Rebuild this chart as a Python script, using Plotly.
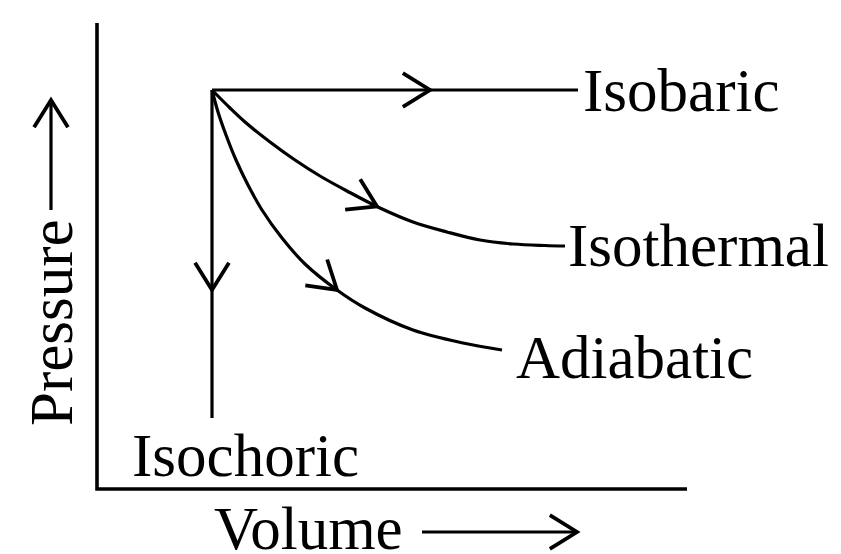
import math
import plotly.graph_objects as go

# ---- data (arbitrary schematic units: volume V, pressure P) ----
frame_V = [0.0, 0.0, 59.0]
frame_P = [46.6, 0.0, 0.0]

isobaric_V = [11.5, 48.1]
isobaric_P = [39.9, 39.9]

isochoric_V = [11.5, 11.5]
isochoric_P = [39.9, 7.1]

isothermal_V = [11.5, 13.3, 14.8, 17.3, 19.8, 22.3, 25.0, 28.3, 31.6, 35.0, 38.3, 41.6, 44.8, 46.8]
isothermal_P = [39.9, 38.1, 36.7, 34.7, 32.9, 31.3, 29.8, 28.1, 26.7, 25.7, 24.9, 24.5, 24.35, 24.3]

adiabatic_V = [11.5, 12.1, 12.9, 13.9, 15.1, 16.5, 18.5, 20.8, 24.0, 26.8, 31.6, 36.6, 40.5]
adiabatic_P = [39.9, 37.7, 35.4, 32.9, 30.4, 27.9, 25.1, 22.5, 19.9, 18.1, 15.9, 14.6, 13.9]

# arrow tips: (coordinate along which to locate, value)
arrow_tip = {"isobaric": ("V", 33.3), "isochoric": ("P", 19.9),
             "isothermal": ("V", 28.0), "adiabatic": ("V", 24.0)}

# axis-label arrows
pressure_arrow_V = [-4.6, -4.6]
pressure_arrow_P = [27.9, 38.9]
volume_arrow_V = [32.5, 48.0]
volume_arrow_P = [-4.3, -4.3]

labels = ["Isobaric", "Isothermal", "Adiabatic", "Isochoric"]
label_V = [48.4, 46.9, 41.7, 3.3]
label_P = [39.9, 24.4, 13.2, 3.4]

# ---- geometry: 10 px per unit, origin at pixel (97, 489) ----
W, H = 841, 554
S = 10.0
OX, OY = 97, 489
xr = [-OX / S, (W - OX) / S]
yr = [(OY - H) / S, OY / S]

FONT = "Liberation Serif"
FS = 61
LW = 3.2


def to_px(v, p):
    return OX + v * S, OY - p * S


def to_data(x, y):
    return (x - OX) / S, (OY - y) / S


def locate(V, P, key, val):
    arr = V if key == "V" else P
    for i in range(len(arr) - 1):
        a, b = arr[i], arr[i + 1]
        if min(a, b) <= val <= max(a, b) and a != b:
            t = (val - a) / (b - a)
            v = V[i] + t * (V[i + 1] - V[i])
            p = P[i] + t * (P[i + 1] - P[i])
            j0, j1 = max(i - 1, 0), min(i + 2, len(V) - 1)
            x0, y0 = to_px(V[j0], P[j0])
            x1, y1 = to_px(V[j1], P[j1])
            n = math.hypot(x1 - x0, y1 - y0)
            return to_px(v, p), ((x1 - x0) / n, (y1 - y0) / n)
    x0, y0 = to_px(V[-2], P[-2])
    x1, y1 = to_px(V[-1], P[-1])
    n = math.hypot(x1 - x0, y1 - y0)
    return (x1, y1), ((x1 - x0) / n, (y1 - y0) / n)


def chevron(tip, d, length=32, half_angle=32):
    a = math.radians(half_angle)
    xs, ys = [], []
    for sgn in (1, -1):
        c, s = math.cos(sgn * a), math.sin(sgn * a)
        bx, by = -d[0], -d[1]
        xs.append(tip[0] + length * (bx * c - by * s))
        ys.append(tip[1] + length * (bx * s + by * c))
    px = [xs[0], tip[0], xs[1]]
    py = [ys[0], tip[1], ys[1]]
    dv = [to_data(x, y) for x, y in zip(px, py)]
    return [q[0] for q in dv], [q[1] for q in dv]


fig = go.Figure()


def add_line(V, P, shape="linear", width=LW):
    fig.add_trace(go.Scatter(x=V, y=P, mode="lines",
                             line=dict(color="black", width=width, shape=shape),
                             hoverinfo="skip", showlegend=False))


add_line(frame_V, frame_P, width=3.6)
add_line(isobaric_V, isobaric_P)
add_line(isochoric_V, isochoric_P)
add_line(isothermal_V, isothermal_P, shape="spline")
add_line(adiabatic_V, adiabatic_P, shape="spline")
add_line(pressure_arrow_V, pressure_arrow_P)
add_line(volume_arrow_V, volume_arrow_P)

paths = {
    "isobaric": (isobaric_V, isobaric_P),
    "isochoric": (isochoric_V, isochoric_P),
    "isothermal": (isothermal_V, isothermal_P),
    "adiabatic": (adiabatic_V, adiabatic_P),
}
for name, (V, P) in paths.items():
    key, val = arrow_tip[name]
    tip, d = locate(V, P, key, val)
    cx, cy = chevron(tip, d)
    add_line(cx, cy, width=3.8)

for key, V, P in (("P", pressure_arrow_V, pressure_arrow_P), ("V", volume_arrow_V, volume_arrow_P)):
    val = P[-1] if key == "P" else V[-1]
    tip, d = locate(V, P, key, val)
    cx, cy = chevron(tip, d)
    add_line(cx, cy, width=3.8)

font = dict(family=FONT, size=FS, color="black")
for t, v, p in zip(labels, label_V, label_P):
    fig.add_annotation(x=v, y=p, text=t, showarrow=False, xanchor="left",
                       yanchor="middle", font=font)

fig.add_annotation(x=11.5, y=-3.9, text="Volume", showarrow=False, xanchor="left",
                   yanchor="middle", font=font)
fig.add_annotation(x=-4.6, y=16.6, text="Pressure", showarrow=False, textangle=-90,
                   xanchor="center", yanchor="middle", font=font)

fig.update_layout(
    width=W, height=H,
    margin=dict(l=0, r=0, t=0, b=0),
    paper_bgcolor="white", plot_bgcolor="white",
    xaxis=dict(range=xr, visible=False, fixedrange=True),
    yaxis=dict(range=yr, visible=False, fixedrange=True),
    showlegend=False,
)

fig.write_html("out.html", config={"displayModeBar": False},
               post_script="document.body.style.margin='0';document.body.style.overflow='hidden';")
